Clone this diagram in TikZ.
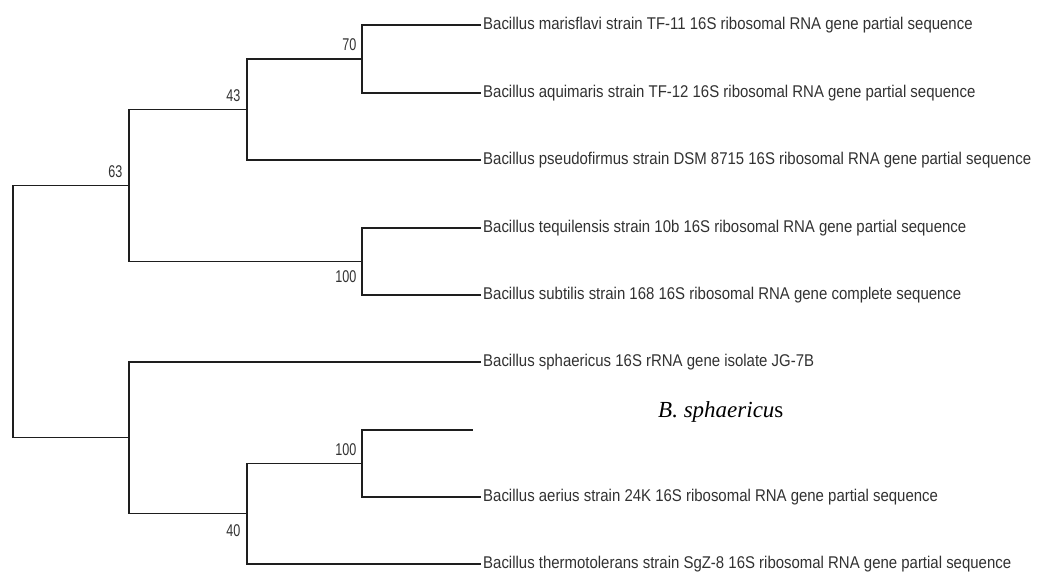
\documentclass[tikz,border=0pt]{standalone}
\usepackage{fontspec}
\newfontfamily\arialf{Liberation Sans}
\newfontfamily\timesf{Liberation Serif}
\newcommand\lblsq[1]{\scalebox{0.88}[1]{#1}}
\newcommand\bsq[1]{\scalebox{0.74}[1]{#1}}
\definecolor{linecol}{RGB}{30,30,30}
\definecolor{txtcol}{RGB}{50,50,50}
\begin{document}
\begin{tikzpicture}[x=1pt,y=-1pt,
  branch/.style={draw=linecol,line width=1.3pt},
  leaflbl/.style={anchor=west,inner xsep=2pt,inner ysep=0pt,text=txtcol,font=\arialf\fontsize{17}{17}\selectfont},
  boot/.style={anchor=base east,inner sep=0pt,text=txtcol,font=\arialf\fontsize{17}{17}\selectfont},
  note/.style={anchor=base west,inner sep=0pt,text=black,font=\timesf\fontsize{23}{23}\selectfont}]
\useasboundingbox[fill=white] (0,0) rectangle (1039,572);
% internal nodes
\coordinate (root) at (13,311.5);
\coordinate (n63) at (129,185.5);
\coordinate (n43) at (247,109.5);
\coordinate (n70) at (362,59);
\coordinate (n100a) at (362,261.5);
\coordinate (nb) at (129,437.5);
\coordinate (n40) at (247,513.75);
\coordinate (n100b) at (362,463.5);
\coordinate (l7) at (473,430);
% leaf labels
\node[leaflbl] (t1) at (481,25) {\lblsq{Bacillus marisflavi strain TF-11 16S ribosomal RNA gene partial sequence}};
\node[leaflbl] (t2) at (481,93) {\lblsq{Bacillus aquimaris strain TF-12 16S ribosomal RNA gene partial sequence}};
\node[leaflbl] (t3) at (481,160) {\lblsq{Bacillus pseudofirmus strain DSM 8715 16S ribosomal RNA gene partial sequence}};
\node[leaflbl] (t4) at (481,228) {\lblsq{Bacillus tequilensis strain 10b 16S ribosomal RNA gene partial sequence}};
\node[leaflbl] (t5) at (481,295) {\lblsq{Bacillus subtilis strain 168 16S ribosomal RNA gene complete sequence}};
\node[leaflbl] (t6) at (481,362) {\lblsq{Bacillus sphaericus 16S rRNA gene isolate JG-7B}};
\node[leaflbl] (t8) at (481,497) {\lblsq{Bacillus aerius strain 24K 16S ribosomal RNA gene partial sequence}};
\node[leaflbl] (t9) at (481,564) {\lblsq{Bacillus thermotolerans strain SgZ-8 16S ribosomal RNA gene partial sequence}};
% branches
\draw[branch] (root) |- (n63);
\draw[branch] (root) |- (nb);
\draw[branch] (n63) |- (n43);
\draw[branch] (n63) |- (n100a);
\draw[branch] (n43) |- (n70);
\draw[branch] (n43) |- (t3.west);
\draw[branch] (n70) |- (t1.west);
\draw[branch] (n70) |- (t2.west);
\draw[branch] (n100a) |- (t4.west);
\draw[branch] (n100a) |- (t5.west);
\draw[branch] (nb) |- (t6.west);
\draw[branch] (nb) |- (n40);
\draw[branch] (n40) |- (n100b);
\draw[branch] (n40) |- (t9.west);
\draw[branch] (n100b) |- (l7);
\draw[branch] (n100b) |- (t8.west);
% bootstrap values
\node[boot] (b70) at (356.5,51) {\bsq{70}};
\node[boot] (b43) at (240.5,101.5) {\bsq{43}};
\node[boot] (b63) at (122.5,177.5) {\bsq{63}};
\node[boot] (b100a) at (356.5,283) {\bsq{100}};
\node[boot] (b100b) at (356.5,455) {\bsq{100}};
\node[boot] (b40) at (240.5,536) {\bsq{40}};
% annotation
\node[note] (bs) at (658,417) {\textit{B. sphaericu}s};
\end{tikzpicture}
\end{document}
